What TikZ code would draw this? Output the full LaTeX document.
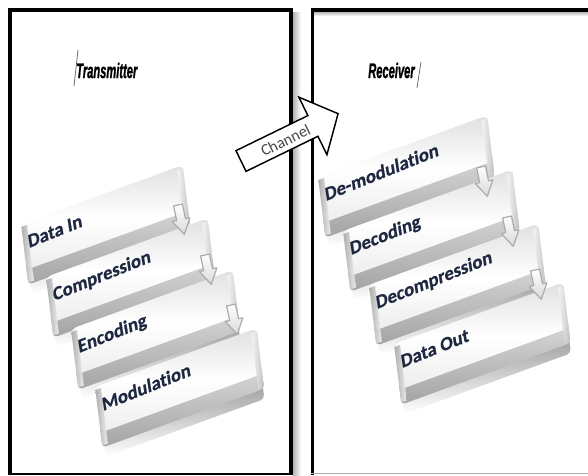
\documentclass[tikz,border=0pt]{standalone}
\usepackage{graphicx}
\usepackage{fontspec}
\setmainfont{Carlito}[Ligatures=NoCommon, BoldFeatures={FakeBold=0.6}]
\newfontfamily\titlefont{Liberation Sans}[BoldItalicFeatures={FakeBold=1.6}]
\definecolor{barink}{RGB}{30,40,64}
\definecolor{chanink}{RGB}{72,72,72}

% one raised key of a process column: origin (px), length, node name, label
\newcommand\flowbar[5]{%
\begin{scope}[cm={0.9397,0.3420,-0.1219,0.9925,(#1,#2)}]
  \shade[top color=gray!75, bottom color=white, rounded corners=3] (2,55) rectangle (#3-1,71);
  \shade[top color=gray!30, bottom color=gray!72, rounded corners=3] (0,38) rectangle (#3,61);
  \shade[top color=gray!24, bottom color=gray!14, middle color=white, rounded corners=4] (0,0) rectangle (#3,46);
  \shade[left color=gray!70, right color=gray!8, opacity=0.9] (0,3) rectangle (6,59);
  \shade[left color=gray!8, right color=gray!50, opacity=0.9] (#3-6,3) rectangle (#3,59);
  \node[bartext] (#4) at (5,26) {#5};
\end{scope}}

% small hollow arrow that links one key to the next
\newcommand\downmark[2]{%
\begin{scope}[shift={(#1,#2)}, rotate=12]
  \shadedraw[top color=white, bottom color=gray!30, draw=gray!65, line width=0.9pt, line join=round]
    (-4.5,0) -- (4.5,0) -- (4.5,15) -- (9,15) -- (0,30) -- (-9,15) -- (-4.5,15) -- cycle;
\end{scope}}

\begin{document}
\begin{tikzpicture}[x=0.75pt,y=-0.75pt,
  bartext/.style={font=\bfseries\fontsize{14.5}{16}\selectfont, text=barink,
    anchor=base west, inner sep=0pt, transform shape, rotate=2},
  titletext/.style={font=\titlefont\bfseries\itshape\fontsize{15.75}{18}\selectfont,
    anchor=base west, inner sep=0pt},
  cursor/.style={line width=0.5pt, draw=gray!70!black}]

\fill[white] (0,0) rectangle (588,475);
\useasboundingbox (0,0) rectangle (588,475);

% ---- transmitter frame ----
\shade[left color=gray!60, right color=white] (293,12) rectangle (301,475);
\draw[line width=3pt] (10,475) -- (10,10) -- (290.5,10) -- (290.5,475);
\draw[line width=1.5pt] (8,473.5) -- (293,473.5);

% ---- receiver frame ----
\shade[top color=gray!55, bottom color=white] (314,12) rectangle (588,16);
\draw[line width=2.6pt] (312.5,475) -- (312.5,10) -- (590,10);
\draw[gray!65, line width=1.2pt] (311,473.5) -- (588,473.5);

% ---- titles ----
\node[titletext] (tx) at (76,78) {\scalebox{0.53}[1]{Transmitter}};
\draw[cursor] (74,86) -- (78,50);
\node[titletext] (rx) at (368,78) {\scalebox{0.53}[1]{Receiver}};
\draw[cursor] (417,88) -- (421,62);

% ---- transmitter chain ----
\flowbar{21}{224}{172}{din}{Data In}
\flowbar{46}{277}{172}{comp}{Compression}
\flowbar{71}{329}{172}{enc}{Encoding}
\flowbar{95}{387}{172}{mod}{Modulation}
\downmark{178}{205}
\downmark{205}{255}
\downmark{231}{305}

% ---- receiver chain ----
\flowbar{318}{177}{180}{demod}{De-modulation}
\flowbar{343}{231}{180}{dec}{Decoding}
\flowbar{369}{285}{180}{decomp}{Decompression}
\flowbar{394}{344}{180}{dout}{Data Out}
\downmark{481}{167}
\downmark{507}{217}
\downmark{535}{270}

% ---- channel arrow across the gap ----
\begin{scope}[shift={(241,161)}, rotate=26]
  \filldraw[fill=white, draw=black, line width=1.1pt, line join=miter]
    (0,-11.5) -- (80,-11.5) -- (80,-32) -- (108,0) -- (80,32) -- (80,11.5) -- (0,11.5) -- cycle;
  \node[transform shape, inner sep=0pt, font=\fontsize{12}{14}\selectfont, text=chanink] (chan) at (49,1) {Channel};
\end{scope}

\end{tikzpicture}
\end{document}
